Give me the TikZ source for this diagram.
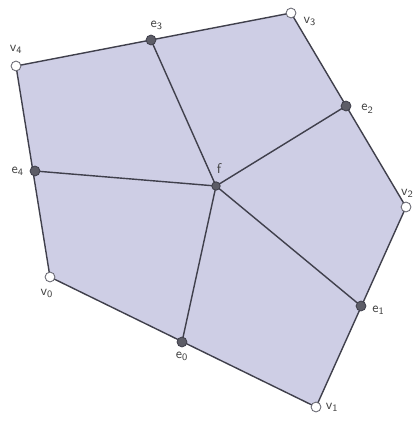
\documentclass[tikz,border=0pt]{standalone}
\usepackage{tikz}
\usetikzlibrary{positioning}
\definecolor{facefill}{RGB}{206,206,229}
\definecolor{edgeline}{RGB}{64,64,76}
\tikzset{
	vert/.style={circle, draw=edgeline!80, fill=white, line width=0.6pt, inner sep=0pt, minimum size=7pt},
	mid/.style={circle, draw=edgeline, fill=edgeline!85, line width=0.6pt, inner sep=0pt, minimum size=7pt},
	lbl/.style={font=\sffamily, text=black!75, inner sep=1pt},
	side/.style={draw=edgeline, line width=1pt}
}
\begin{document}
\begin{tikzpicture}[x=0.025cm, y=-0.025cm]
		\clip (0,0) rectangle (416,431);
		\useasboundingbox (0,0) rectangle (416,431);
		% corners of the pentagon
		\coordinate (v0) at (50,277);
		\coordinate (v1) at (316,407);
		\coordinate (v2) at (406,207);
		\coordinate (v3) at (291,13);
		\coordinate (v4) at (16,66);
		% edge points and face point
		\coordinate (e0) at (182,342);
		\coordinate (e1) at (361,306);
		\coordinate (e2) at (346,106);
		\coordinate (e3) at (151,40);
		\coordinate (e4) at (35,171);
		\coordinate (f) at (216,186);
		\fill[facefill] (v0) -- (v1) -- (v2) -- (v3) -- (v4) -- cycle;
		\draw[side] (v0) -- (v1) -- (v2) -- (v3) -- (v4) -- cycle;
		\draw[side] (f) -- (e0);
		\draw[side] (f) -- (e1);
		\draw[side] (f) -- (e2);
		\draw[side] (f) -- (e3);
		\draw[side] (f) -- (e4);
		\node[vert] (n0) at (v0) {};
		\node[vert] (n1) at (v1) {};
		\node[vert] (n2) at (v2) {};
		\node[vert] (n3) at (v3) {};
		\node[vert] (n4) at (v4) {};
		\node[mid] (m0) at (e0) {};
		\node[mid] (m1) at (e1) {};
		\node[mid] (m2) at (e2) {};
		\node[mid] (m3) at (e3) {};
		\node[mid] (m4) at (e4) {};
		\node[mid, minimum size=6pt] (mf) at (f) {};
		% labels
		\node[lbl, below left=5pt and -6pt of n0] (l0) {v\textsubscript{0}};
		\node[lbl, right=2pt of n1] (l1) {v\textsubscript{1}};
		\node[lbl, above=2pt of n2, xshift=1pt] (l2) {v\textsubscript{2}};
		\node[lbl, right=4pt of n3, yshift=-6pt] (l3) {v\textsubscript{3}};
		\node[lbl, above=4pt of n4] (l4) {v\textsubscript{4}};
		\node[lbl, below=2pt of m0] (k0) {e\textsubscript{0}};
		\node[lbl, right=3pt of m1, yshift=-3pt] (k1) {e\textsubscript{1}};
		\node[lbl, right=6pt of m2, yshift=-2pt] (k2) {e\textsubscript{2}};
		\node[lbl, above=2pt of m3, xshift=4pt] (k3) {e\textsubscript{3}};
		\node[lbl, left=3pt of m4] (k4) {e\textsubscript{4}};
		\node[lbl, above right=5pt and -3pt of mf] (kf) {f};
\end{tikzpicture}
\end{document}
